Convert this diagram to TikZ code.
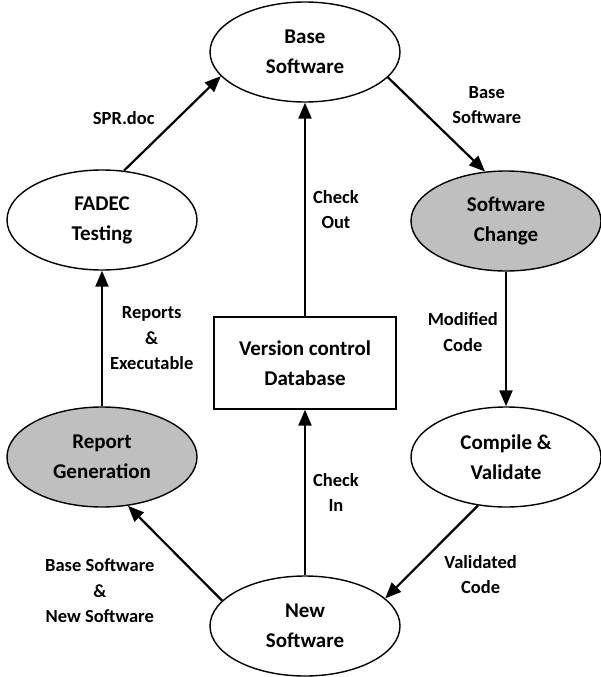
\documentclass[tikz,border=0pt]{standalone}
\usepackage{fontspec}
\setmainfont{Carlito}
\usetikzlibrary{shapes.geometric, positioning, arrows.meta}
\definecolor{procgray}{RGB}{191,191,191}

\begin{document}
\begin{tikzpicture}[x=1pt, y=-1pt, on grid, auto,
    proc/.style={ellipse, draw, line width=1.4pt, minimum width=190pt, minimum height=100pt,
      inner sep=0pt, align=center, font=\fontsize{21}{30}\selectfont\bfseries},
    procshaded/.style={proc, fill=procgray},
    store/.style={rectangle, draw, line width=1.4pt, minimum width=182pt, minimum height=92pt,
      align=center, font=\fontsize{21}{30}\selectfont\bfseries},
    flow/.style={-{Triangle[length=16pt,width=13pt]}, line width=2.2pt},
    lbl/.style={font=\fontsize{18.5}{25.5}\selectfont\bfseries, align=center, inner sep=7pt}]
  \useasboundingbox (0,0) rectangle (600,677);

  \node[proc] (base) at (305,52) {Base\\Software};
  \node[proc] (fadec) [below left=168pt and 203pt of base] {FADEC\\Testing};
  \node[procshaded] (change) [below right=169pt and 201pt of base] {Software\\Change};
  \node[procshaded] (report) [below=237pt of fadec] {Report\\Generation};
  \node[proc] (compile) [below=236pt of change] {Compile \&\\Validate};
  \node[proc] (new) [below=574pt of base] {New\\Software};
  \node[store] (db) [above=263pt of new] {Version control\\Database};

  \path[flow]
    (fadec.66) edge node[lbl, pos=0.4] {SPR.doc} (base.196)
    (base.343) edge node[lbl, pos=0.58] {Base\\Software} (change.113)
    (db) edge node[lbl, swap, pos=0.5] {Check\\Out} (base)
    (change) edge node[lbl, swap, pos=0.45] {Modified\\Code} (compile)
    (new) edge node[lbl, swap, pos=0.5] {Check\\In} (db)
    (compile.240) edge node[lbl, pos=0.45] {Validated\\Code} (new.19)
    (new.163) edge node[lbl, pos=0.58, inner sep=12pt] {Base Software\\\&\\New Software} (report.298)
    (report) edge node[lbl, swap, pos=0.5] {Reports\\\&\\Executable} (fadec);
\end{tikzpicture}
\end{document}
